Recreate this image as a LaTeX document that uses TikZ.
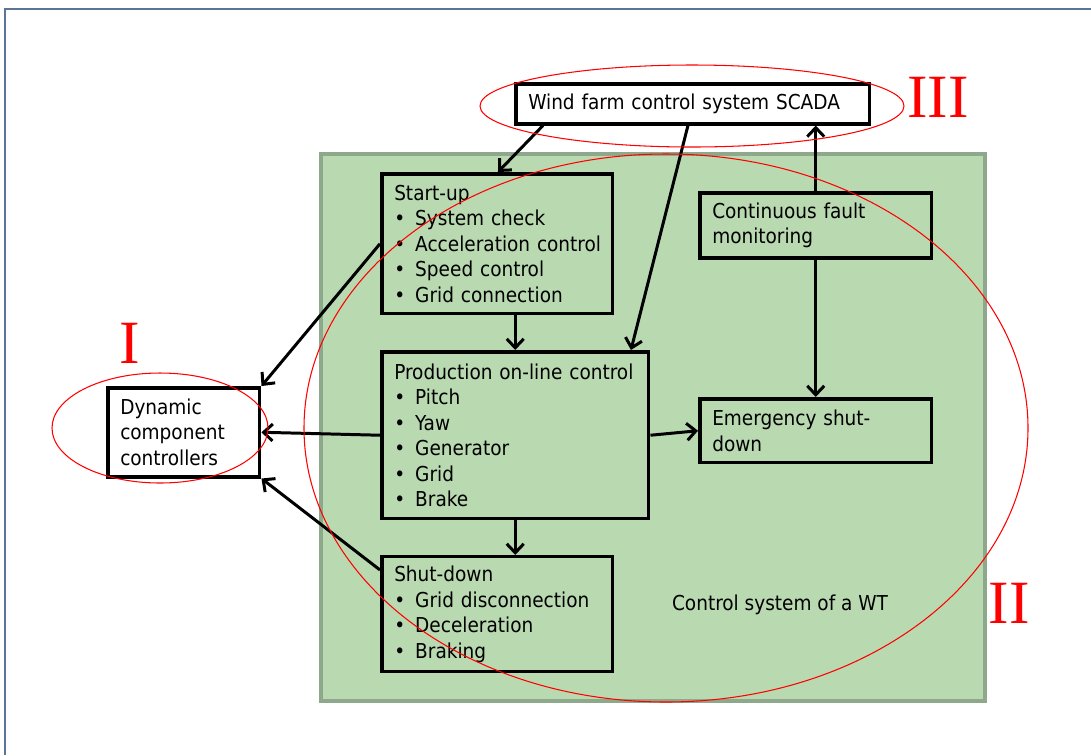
\documentclass[tikz,border=0pt]{standalone}
\usepackage{fontspec}
\setmainfont{DejaVu Sans Condensed}
\newfontfamily\numfont{Liberation Serif}
\usetikzlibrary{arrows.meta,positioning}
\definecolor{wtgreen}{RGB}{185,217,177}
\definecolor{wtedge}{RGB}{141,168,138}
\definecolor{slideframe}{RGB}{92,117,148}
\newcommand{\itm}[1]{\mbox{\makebox[0.42cm][l]{\textbullet}#1}}

\begin{document}
\begin{tikzpicture}[x=0.02cm, y=-0.02cm,
    box/.style = {draw, line width=2pt, align=left, inner xsep=0.25cm, inner ysep=0pt,
                  font=\fontsize{11.7}{14.5}\selectfont},
    arr/.style = {-{Straight Barb[length=0.18cm, width=0.34cm]}, line width=1.7pt},
    ring/.style = {draw=red, line width=0.6pt},
    num/.style = {red, inner sep=0pt, font=\numfont\fontsize{35}{35}\selectfont}]
    \useasboundingbox (0,0) rectangle (1091,755);
    % slide frame and WT area
    \draw[slideframe, line width=1.3pt] (5,755) -- (5,9) -- (1091,9);
    \draw[fill=wtgreen, draw=wtedge, line width=2pt] (321,154) rectangle (985,701);
        \node[box, anchor=north west, text width=6.58cm, minimum height=0.8cm] (1) at (514,82) {\mbox{Wind farm control system SCADA}};
        \node[box, anchor=north west, text width=4.12cm, minimum height=2.8cm] (2) at (380,172)
            {Start-up\\\itm{System check}\\\itm{Acceleration control}\\\itm{Speed control}\\\itm{Grid connection}};
        \node[box, text width=4.84cm, minimum height=3.34cm] (3) [below=0.69cm of 2.south west, anchor=north west]
            {\mbox{Production on-line control}\\\itm{Pitch}\\\itm{Yaw}\\\itm{Generator}\\\itm{Grid}\\\itm{Brake}};
        \node[box, text width=4.12cm, minimum height=2.3cm] (4) [below=0.69cm of 3.south west, anchor=north west]
            {Shut-down\\\itm{Grid disconnection}\\\itm{Deceleration}\\\itm{Braking}};
        \node[box, anchor=north west, text width=4.14cm, minimum height=1.3cm] (5) at (698,191) {Continuous fault\\monitoring};
        \node[box, text width=4.14cm, minimum height=1.28cm] (6) [below=2.75cm of 5] {Emergency shut-\\down};
        \node[box, anchor=north west, text width=2.54cm, minimum height=1.78cm] (7) at (106,386) {Dynamic\\component\\controllers};
        \node[font=\fontsize{11.7}{14.5}\selectfont] (wt) at (780,605) {Control system of a WT};
        \draw[arr] ([xshift=0.58cm]1.south west) -- ([xshift=2.36cm]2.north west);
        \draw[arr] ([xshift=3.48cm]1.south west) -- ([xshift=5.02cm]3.north west);
        \draw[arr] (5.north) -- (5.north |- 1.south);
        \draw[arr] (5.south) -- (6.north);
        \draw[arr] (3.north |- 2.south) -- (3.north);
        \draw[arr] (3.south) -- (3.south |- 4.north);
        \draw[arr] (3.east) -- (6.west);
        \draw[arr] (3.west) -- (7.east);
        \draw[arr] (2.west) -- (7.north east);
        \draw[arr] ([yshift=-0.3cm]4.north west) -- (7.south east);
    % red rings and numerals
    \draw[ring] (692,106) ellipse [x radius=212, y radius=41];
    \draw[ring] (666,428) ellipse [x radius=362, y radius=274];
    \draw[ring] (160,428) ellipse [x radius=108, y radius=55];
        \node[num] (n1) at (130,343) {I};
        \node[num] (n2) at (1009,603) {II};
        \node[num] (n3) at (938,97) {III};
\end{tikzpicture}
\end{document}
